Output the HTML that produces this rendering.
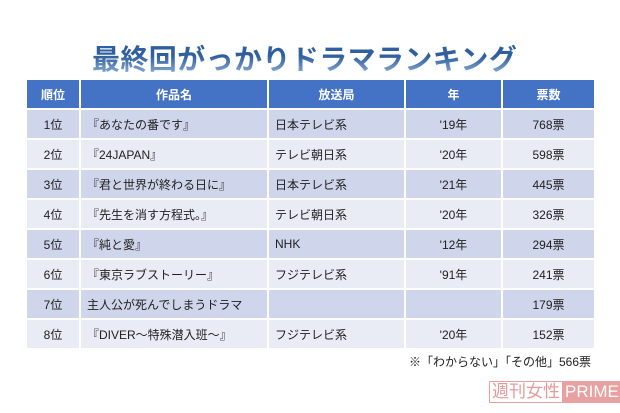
<!DOCTYPE html>
<html><head><meta charset="utf-8"><style>
body{margin:0;width:620px;height:413px;background:#fff;position:relative;overflow:hidden;font-family:"Liberation Sans","Noto Sans CJK JP",sans-serif;}
#title{position:absolute;left:92px;top:38px;font-size:28px;font-weight:bold;letter-spacing:0.4px;color:#3c6fae;background:linear-gradient(#2f5f9e 45%,#9dbde0);-webkit-background-clip:text;background-clip:text;-webkit-text-fill-color:transparent;white-space:nowrap;}
table{position:absolute;left:25px;top:80px;width:571px;border-collapse:collapse;font-size:12px;color:#222;}
td,th{height:28px;padding:0;border:2px solid #fff;border-top:0;border-bottom:2px solid #fff;}
th{background:#4472c4;color:#fff;font-weight:bold;height:28px;}
tr:nth-child(odd) td{background:#cfd5ea;}
tr:nth-child(even) td{background:#e9ebf5;}
td.c{text-align:center}td.l{padding-left:6px}
#note{position:absolute;left:409px;top:353px;font-size:12px;color:#222;}
#logo{position:absolute;left:489px;top:381px;font-size:17px;color:#fff;white-space:nowrap;}
#logo span{display:inline-block;background:#e8a0a0;padding:0 2px;height:22px;line-height:22px}
#logo .a{background:#fff;color:#e59a9a;border:1px solid #e8a0a0;height:20px;line-height:20px;}
</style></head><body>
<div id="title">最終回がっかりドラマランキング</div>
<table>
<thead><tr><th style="width:52px">順位</th><th style="width:186px">作品名</th><th style="width:135px">放送局</th><th style="width:95px">年</th><th>票数</th></tr></thead>
<tbody id="tb"></tbody></table>
<div id="note">※「わからない」「その他」566票</div>
<div id="logo"><span class="a">週刊女性</span><span>PRIME</span></div>
<script>
const ranks=["1位","2位","3位","4位","5位","6位","7位","8位"];
const titles=["『あなたの番です』","『24JAPAN』","『君と世界が終わる日に』","『先生を消す方程式。』","『純と愛』","『東京ラブストーリー』","主人公が死んでしまうドラマ","『DIVER～特殊潜入班～』"];
const stations=["日本テレビ系","テレビ朝日系","日本テレビ系","テレビ朝日系","NHK","フジテレビ系","","フジテレビ系"];
const years=["'19年","'20年","'21年","'20年","'12年","'91年","","'20年"];
const votes=[768,598,445,326,294,241,179,152];
const tb=document.getElementById('tb');
ranks.forEach((r,i)=>{
const tr=document.createElement('tr');


tr.innerHTML='<td class="c">'+r+'</td><td class="l">'+titles[i]+'</td><td class="l">'+stations[i]+'</td><td class="c">'+years[i]+'</td><td class="c">'+votes[i]+'票</td>';
tb.appendChild(tr);
});
</script>
</body></html>
